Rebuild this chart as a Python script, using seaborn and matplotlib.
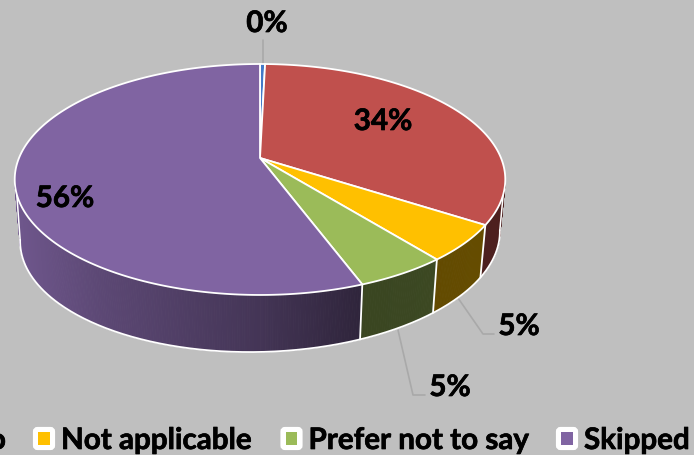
import numpy as np
import matplotlib
matplotlib.use("Agg")
import matplotlib.pyplot as plt
import matplotlib.patheffects as pe
from matplotlib.patches import Polygon, FancyBboxPatch, Rectangle
import seaborn as sns

categories = ["Yes", "No", "Not applicable", "Prefer not to say", "Skipped"]
values = [0.4, 33.7, 5.1, 5.1, 55.7]
value_labels = ["0%", "34%", "5%", "5%", "56%"]
colors = ["#4279c8", "#c0504d", "#ffc000", "#9bbb59", "#8064a2"]
BG = "#bfbfbf"

sns.set_theme(style="white")
plt.rcParams["font.family"] = ["Lato", "DejaVu Sans"]
palette = sns.color_palette(colors)

fig = plt.figure(figsize=(6.94, 4.55), dpi=100, facecolor=BG)
ax = fig.add_axes([0, 0, 1, 1], facecolor=BG)

# the library computes the slice angles; the 3D look re-projects them
wedges, _ = ax.pie(values, colors=palette, startangle=90, counterclock=False)
angles = [(w.theta1, w.theta2) for w in wedges]
for w in wedges:
    w.remove()
ax.set_aspect("auto")
ax.set_xlim(0, 694)
ax.set_ylim(455, 0)
ax.set_axis_off()

CX, CY, A, B, K, D = 260.0, 158.0, 241.0, 82.1, 0.186, 57.0
FRONT_R, FRONT_L = -10.0, -170.0   # wall is visible between these angles
SIL_R, SIL_L = -18.0, -162.0       # where the silhouette leaves the top rim


def top(theta):
    t = np.radians(theta)
    u, v = np.cos(t), np.sin(t)
    w = 1 + K * v
    return CX + A * u / w, (CY - B * v) / w


def bottom(theta):
    x, y = top(theta)
    return CX + (x - CX) * 0.978, y + D - 0.02 * (x - CX)


def shade(x):
    return np.interp(x, [20, 100, 260, 360, 500], [0.86, 0.72, 0.53, 0.37, 0.40])


# side walls
for (t1, t2), col in zip(angles, palette):
    lo, hi = max(min(t1, t2), FRONT_L), min(max(t1, t2), FRONT_R)
    if hi <= lo:
        continue
    th = np.linspace(lo, hi, max(2, int((hi - lo) * 2) + 1))
    for a, b in zip(th[:-1], th[1:]):
        xa, ya = top(a)
        xb, yb = top(b)
        xc, yc = bottom(b)
        xd, yd = bottom(a)
        c = tuple(np.array(col) * shade((xa + xb) / 2))
        ax.add_patch(Polygon([(xa, ya), (xb, yb), (xc, yc), (xd, yd)],
                             closed=True, fc=c, ec=c, lw=0.6, zorder=2))

# small fillers between the rim and the wall's tangent points
for sil, front, col in ((SIL_R, FRONT_R, palette[1]), (SIL_L, FRONT_L, palette[4])):
    x0, y0 = top(sil)
    x1, y1 = top(front)
    x2, y2 = bottom(front)
    c = tuple(np.array(col) * shade(x1))
    ax.add_patch(Polygon([(x0, y0), (x1, y1), (x2, y2)], closed=True, fc=c, ec=c,
                         lw=0.6, zorder=2))
    ax.plot([x0, x2], [y0, y2], color="white", lw=1.1, zorder=3)

# white outline of the wall
xs, ys = bottom(np.linspace(FRONT_R, FRONT_L, 300))
ax.plot(xs, ys, color="white", lw=1.3, zorder=3, solid_capstyle="round")
for (t1, t2) in angles[1:4]:
    end = min(t1, t2)
    xt, yt = top(end)
    xb, yb = bottom(end)
    ax.plot([xt, xb], [yt, yb], color="white", lw=1.3, zorder=3)

# top face
for (t1, t2), col in zip(angles, palette):
    lo, hi = min(t1, t2), max(t1, t2)
    th = np.linspace(lo, hi, max(3, int((hi - lo) * 2) + 1))
    xs, ys = top(th)
    pts = [(CX, CY)] + list(zip(xs, ys))
    ax.add_patch(Polygon(pts, closed=True, fc=col, ec="white", lw=1.3,
                         joinstyle="round", zorder=4))

# leader lines
lc = "#a9a9a9"
ax.plot([263, 263], [40, 64], color=lc, lw=1.2, zorder=1)
ax.plot([458, 483, 494], [298, 334, 334], color=lc, lw=1.2, zorder=1)
ax.plot([398, 413, 425], [330, 395, 395], color=lc, lw=1.2, zorder=1)

heavy = [pe.withStroke(linewidth=0.5, foreground="black")]
FS = 21.3

# data labels
label_pos = [(267, 23), (383, 121), (519, 326), (450, 387), (65, 198)]
for text, (x, y) in zip(value_labels, label_pos):
    ax.text(x, y, text, ha="center", va="center", fontsize=FS,
            fontweight="bold", color="black", zorder=6, path_effects=heavy)

# legend (runs off both edges, as in the reference)
ax.text(6, 440, categories[1], ha="right", va="center", fontsize=FS,
        fontweight="bold", color="black", zorder=6, path_effects=heavy)
legend_x = [33, 280.5, 556]
for x0, name, col in zip(legend_x, categories[2:], palette[2:]):
    ax.add_patch(FancyBboxPatch((x0 + 2, 429), 18, 19,
                                boxstyle="round,pad=0,rounding_size=2.5",
                                fc="white", ec="white", lw=3, zorder=5))
    ax.add_patch(Rectangle((x0 + 5.5, 432), 11.5, 13, fc=col, ec="none", zorder=6))
    ax.text(x0 + 28, 440, name, ha="left", va="center", fontsize=FS,
            fontweight="bold", color="black", zorder=6, path_effects=heavy)

fig.savefig("out.png", dpi=100, facecolor=BG)
